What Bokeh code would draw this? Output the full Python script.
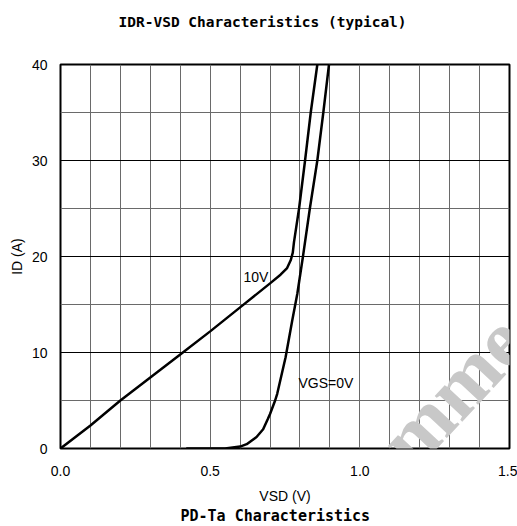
from bokeh.plotting import figure
from bokeh.models import Range1d, FixedTicker, Grid, Label, Title, PrintfTickFormatter
from bokeh.embed import file_html
from bokeh.resources import INLINE

# ---- data ----
vsd_10v = [0.0, 0.1, 0.2, 0.3, 0.4, 0.5, 0.6, 0.7, 0.735, 0.757, 0.769, 0.776, 0.78, 0.797, 0.817, 0.836, 0.858]
id_10v = [0.0, 2.4, 5.0, 7.4, 9.8, 12.2, 14.7, 17.2, 18.1, 18.8, 19.6, 20.4, 21.5, 25.0, 30.0, 35.0, 40.0]

vsd_0v = [0.42, 0.55, 0.6, 0.622, 0.655, 0.677, 0.693, 0.7, 0.717, 0.724, 0.752, 0.774, 0.791, 0.81, 0.833, 0.858, 0.878, 0.897]
id_0v = [0.0, 0.0, 0.2, 0.45, 1.2, 2.0, 3.1, 3.6, 5.0, 5.7, 9.5, 13.3, 16.1, 20.0, 25.0, 30.0, 35.0, 40.0]

x_ticks = [0.0, 0.5, 1.0, 1.5]
y_ticks = [0, 10, 20, 30, 40]
x_grid = [0.1, 0.2, 0.3, 0.4, 0.5, 0.6, 0.7, 0.8, 0.9, 1.0, 1.1, 1.2, 1.3, 1.4]
y_grid_major = [10, 20, 30]
y_grid_minor = [5, 15, 25, 35]

title_text = "IDR-VSD Characteristics (typical)"
next_title = "PD-Ta Characteristics"
x_label = "VSD (V)"
y_label = "ID (A)"

p = figure(width=517, height=526, output_backend="svg", toolbar_location=None,
           x_range=Range1d(0, 1.5), y_range=Range1d(0, 40),
           min_border_left=60, min_border_right=8, min_border_top=64, min_border_bottom=78)
p.title.visible = False
p.background_fill_color = "white"
p.border_fill_color = "white"
p.outline_line_color = "black"
p.outline_line_width = 2

for ax in (p.xaxis, p.yaxis):
    ax.axis_line_color = None
    ax.major_tick_line_color = None
    ax.minor_tick_line_color = None
    ax.major_tick_out = 0
    ax.major_tick_in = 0
    ax.major_label_text_font = "Liberation Sans"
    ax.major_label_text_font_size = "14px"
    ax.major_label_text_color = "black"
    ax.axis_label_text_font = "Liberation Sans"
    ax.axis_label_text_font_size = "14px"
    ax.axis_label_text_font_style = "normal"
    ax.axis_label_text_color = "black"

p.xaxis.ticker = FixedTicker(ticks=x_ticks)
p.xaxis.formatter = PrintfTickFormatter(format="%.1f")
p.yaxis.ticker = FixedTicker(ticks=y_ticks)
p.xaxis.major_label_standoff = 17
p.yaxis.major_label_standoff = 13
p.xaxis.axis_label = x_label
p.yaxis.axis_label = y_label
p.xaxis.axis_label_standoff = 9
p.yaxis.axis_label_standoff = 4

p.xgrid.ticker = FixedTicker(ticks=x_grid)
p.xgrid.grid_line_color = "#6a6a6a"
p.xgrid.grid_line_width = 1
p.ygrid.ticker = FixedTicker(ticks=y_grid_major)
p.ygrid.grid_line_color = "black"
p.ygrid.grid_line_width = 1
g2 = Grid(dimension=1, ticker=FixedTicker(ticks=y_grid_minor), grid_line_color="#6a6a6a", grid_line_width=1)
p.add_layout(g2)

p.line(vsd_10v, id_10v, line_color="black", line_width=2.5)
p.line(vsd_0v, id_0v, line_color="black", line_width=2.5)

p.add_layout(Label(x=0.611, y=17.9, text="10V", text_font="Liberation Sans", text_font_size="14px",
                   text_align="left", text_baseline="middle", text_color="black"))
p.add_layout(Label(x=0.795, y=6.8, text="VGS=0V", text_font="Liberation Sans", text_font_size="14px",
                   text_align="left", text_baseline="middle", text_color="black"))

# spacer between frame and the title (closest to frame)
spacer = Title(text=" ", text_font_size="1px", standoff=32, text_color="white")
p.add_layout(spacer, "above")
t_top = Title(text=title_text, align="left", offset=58, text_font="DejaVu Sans Mono", text_font_size="14.5px",
              text_font_style="bold", text_color="black", standoff=0)
p.add_layout(t_top, "above")
t_bot = Title(text=next_title, align="left", offset=120, vertical_align="top", text_font="DejaVu Sans Mono",
              text_font_size="15px", text_font_style="bold", text_color="black", standoff=0)
p.add_layout(t_bot, "below")

# watermark (partly outside the chart, as in the reference)
wm = Label(x=1.223, y=3.02, text="comme", text_font="Liberation Serif", text_font_size="82px",
           text_font_style="bold", text_align="center", text_baseline="alphabetic", text_color="#c8c8c8",
           angle=47, angle_units="deg", level="overlay")
p.add_layout(wm)

open("out.html", "w").write(file_html(p, INLINE))
